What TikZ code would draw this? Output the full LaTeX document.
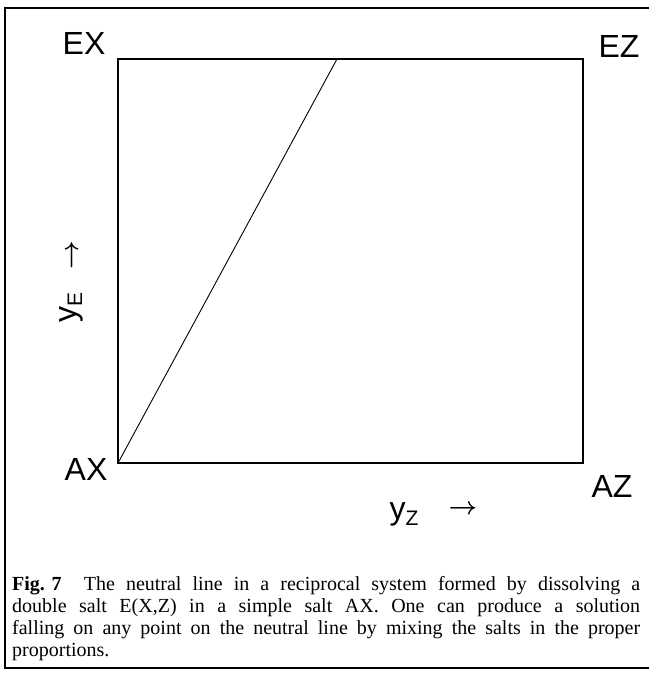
\documentclass[tikz,border=0pt]{standalone}
\usepackage{fontspec}
\setmainfont{Liberation Serif}
\newfontfamily\lblfont{Liberation Sans}
\tikzset{
  frameline/.style={line width=1.6pt, black},
  boxline/.style={line width=1.5pt, black},
  neutral/.style={line width=0.9pt, black},
  corner/.style={font=\lblfont\fontsize{32}{32}\selectfont, inner sep=0pt},
  axislbl/.style={font=\lblfont\fontsize{32}{32}\selectfont, inner sep=0pt},
  arrowlbl/.style={font=\fontsize{34}{34}\selectfont\mathversion{bold}, inner sep=0pt},
  capline/.style={font=\fontsize{20}{22}\selectfont, anchor=base west, inner sep=0pt}
}
\begin{document}
\begin{tikzpicture}[x=1pt,y=-1pt]
\useasboundingbox (0,0) rectangle (649,673);
\fill[white] (0,0) rectangle (649,673);
% outer frame
\coordinate (ftr) at (649,8);
\coordinate (ftl) at (5,8);
\coordinate (fbl) at (5,668);
\coordinate (fbr) at (649,668);
\draw[frameline] (ftr) -- (ftl) -- (fbl) -- (fbr);
% square
\coordinate (sqAX) at (118,463);
\coordinate (sqEX) at (118,59);
\coordinate (sqEZ) at (583,59);
\coordinate (sqAZ) at (583,463);
\draw[boxline] (sqAX) -- (sqEX) -- (sqEZ) -- (sqAZ) -- cycle;
% neutral line
\coordinate (nl) at (337,59);
\draw[neutral] (sqAX) -- (nl);
% corner labels
\node[corner] (EX) at (84,43) {EX};
\node[corner] (EZ) at (619,46) {EZ};
\node[corner] (AX) at (86,469) {AX};
\node[corner] (AZ) at (612,486) {AZ};
% axis labels
\node[axislbl] (yz) at (404,514) {y\raisebox{-0.35ex}{\fontsize{21}{21}\selectfont Z}};
\node[arrowlbl] (yzarr) at (463,510) {$\rightarrow$};
\node[axislbl, rotate=90] (ye) at (71,307) {y\raisebox{-0.35ex}{\fontsize{21}{21}\selectfont E}};
\node[arrowlbl, rotate=90] (yearr) at (73,255) {$\rightarrow$};
% caption
\node[capline] (c1) at (12,590) {\makebox[628pt][s]{\mbox{\textbf{Fig. 7}}\ \ The neutral line in a reciprocal system formed by dissolving a}};
\node[capline] (c2) at (12,612) {\makebox[628pt][s]{double salt E(X,Z) in a simple salt AX. One can produce a solution}};
\node[capline] (c3) at (12,634) {\makebox[628pt][s]{falling on any point on the neutral line by mixing the salts in the proper}};
\node[capline] (c4) at (12,656) {proportions.};
\end{tikzpicture}
\end{document}
